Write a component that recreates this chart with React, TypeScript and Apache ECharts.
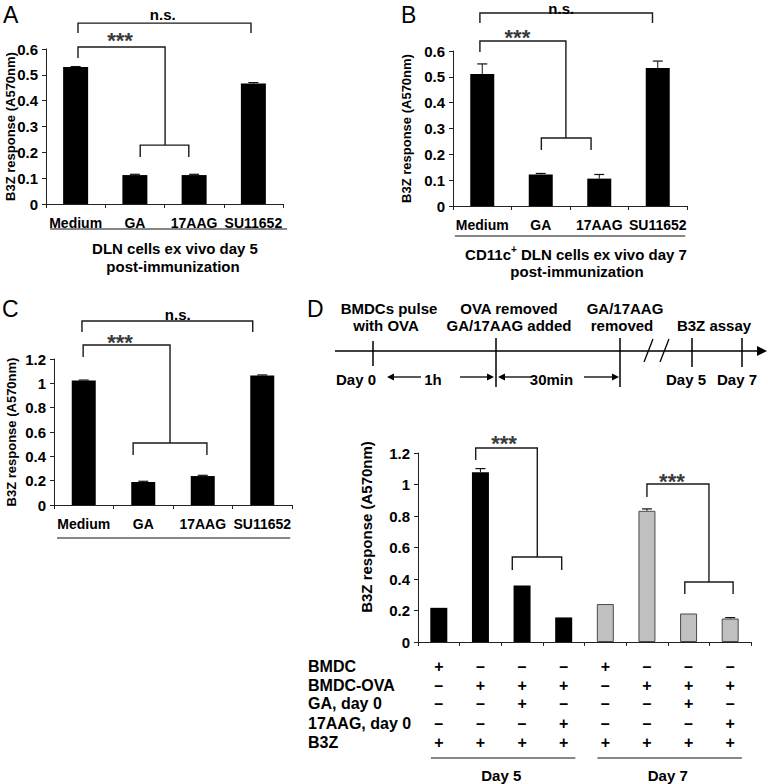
import React, { useEffect, useRef } from 'react';
import * as echarts from 'echarts';

const FONT = '"Liberation Sans", Arial, Helvetica, sans-serif';

// ---------- data ----------
const categoriesABC = ['Medium', 'GA', '17AAG', 'SU11652'];
const valuesA = [0.53, 0.112, 0.112, 0.466];
const errorsA = [0.002, 0.003, 0.003, 0.004];
const valuesB = [0.511, 0.122, 0.106, 0.534];
const errorsB = [0.039, 0.004, 0.016, 0.027];
const valuesC = [1.024, 0.189, 0.238, 1.065];
const errorsC = [0.003, 0.006, 0.006, 0.004];

const categoriesD = ['BMDC d5', 'BMDC-OVA d5', 'GA d5', '17AAG d5', 'BMDC d7', 'BMDC-OVA d7', 'GA d7', '17AAG d7'];
const dayGroupD = ['Day 5', 'Day 5', 'Day 5', 'Day 5', 'Day 7', 'Day 7', 'Day 7', 'Day 7'];
const valuesD = [0.217, 1.077, 0.359, 0.156, 0.241, 0.833, 0.181, 0.149];
const errorsD = [0, 0.024, 0, 0, 0, 0.012, 0, 0.006];

const yTicksAB = [0, 0.1, 0.2, 0.3, 0.4, 0.5, 0.6];
const yTicksCD = [0, 0.2, 0.4, 0.6, 0.8, 1, 1.2];

const tableRowLabels = ['BMDC', 'BMDC-OVA', 'GA, day 0', '17AAG, day 0', 'B3Z'];
const rowBMDC = ['+', '–', '–', '–', '+', '–', '–', '–'];
const rowBMDCOVA = ['–', '+', '+', '+', '–', '+', '+', '+'];
const rowGA = ['–', '–', '+', '–', '–', '–', '+', '–'];
const rowAAG = ['–', '–', '–', '+', '–', '–', '–', '+'];
const rowB3Z = ['+', '+', '+', '+', '+', '+', '+', '+'];
const tableRows = [rowBMDC, rowBMDCOVA, rowGA, rowAAG, rowB3Z];
const dayGroups = ['Day 5', 'Day 7'];

const yTitle = 'B3Z response (A570nm)';

// ---------- annotation layout (significance brackets, in category-fraction / value units) ----------
const bracketsA = [
  { kind: 'simple', x1: 0.04, x2: 2.96, y: 0.70, leg: 0.662, label: 'n.s.', tx: 1.47, dy: -9 },
  { kind: 'nested', x1: 0.04, xm: 1.51, y: 0.608, leg: 0.565, lx1: 1.09, lx2: 1.91, ly: 0.228, lleg: 0.182, label: '***', tx: 0.75, dy: -6 },
];
const bracketsB = [
  { kind: 'simple', x1: -0.04, x2: 2.91, y: 0.747, leg: 0.708, label: 'n.s.', tx: 1.35, dy: -5 },
  { kind: 'nested', x1: -0.04, xm: 1.43, y: 0.639, leg: 0.596, lx1: 1.01, lx2: 1.86, ly: 0.263, lleg: 0.217, label: '***', tx: 0.6, dy: -3.5 },
];
const bracketsC = [
  { kind: 'simple', x1: -0.03, x2: 2.84, y: 1.512, leg: 1.422, label: 'n.s.', tx: 1.58, dy: -7 },
  { kind: 'nested', x1: -0.01, xm: 1.45, y: 1.315, leg: 1.216, lx1: 0.83, lx2: 2.07, ly: 0.51, lleg: 0.411, label: '***', tx: 0.61, dy: -3 },
];
const bracketsD = [
  { kind: 'nested', x1: 0.886, xm: 2.366, y: 1.232, leg: 1.156, lx1: 1.765, lx2: 2.952, ly: 0.54, lleg: 0.457, label: '***', tx: 1.566, dy: -4.5 },
  { kind: 'nested', x1: 5.0, xm: 6.49, y: 1.003, leg: 0.921, lx1: 5.91, lx2: 7.07, ly: 0.381, lleg: 0.305, label: '***', tx: 5.6, dy: -3 },
];

const grids = [
  { left: 46, top: 49, width: 237, height: 155 },
  { left: 453, top: 51, width: 234, height: 155 },
  { left: 54, top: 359, width: 238, height: 146 },
  { left: 418, top: 453, width: 333, height: 189 },
];

function xAxisFor(g: number, data: string[], showLabel: boolean, margin: number) {
  return {
    type: 'category', gridIndex: g, data,
    axisLine: { show: true, lineStyle: { color: '#222', width: 1 } },
    axisTick: { show: true, length: 4, alignWithLabel: false, interval: 0, lineStyle: { color: '#222' } },
    axisLabel: { show: showLabel, interval: 0, margin, color: '#000', fontFamily: FONT, fontWeight: 'bold', fontSize: 14 },
    splitLine: { show: false },
  };
}

function yAxisFor(g: number, ticks: number[], fontSize: number) {
  return {
    type: 'value', gridIndex: g,
    min: ticks[0], max: ticks[ticks.length - 1], interval: ticks[1] - ticks[0],
    axisLine: { show: true, lineStyle: { color: '#222', width: 1 } },
    axisTick: { show: true, length: 4, lineStyle: { color: '#222' } },
    axisLabel: { margin: 8, color: '#000', fontFamily: FONT, fontWeight: 'bold', fontSize },
    splitLine: { show: false },
  };
}

const errRender = (params: any, api: any) => {
  const i = api.value(0);
  const v = api.value(1);
  const e = api.value(2);
  if (!e) return { type: 'group', children: [] };
  const base = api.coord([i, v]);
  const top = api.coord([i, v + e]);
  const hw = 5;
  return {
    type: 'group',
    children: [
      { type: 'line', shape: { x1: base[0], y1: base[1], x2: top[0], y2: top[1] }, style: { stroke: '#111', lineWidth: 1 } },
      { type: 'line', shape: { x1: top[0] - hw, y1: top[1], x2: top[0] + hw, y2: top[1] }, style: { stroke: '#111', lineWidth: 1.2 } },
    ],
  };
};

function barSeries(g: number, values: any[], width: number) {
  return { type: 'bar', xAxisIndex: g, yAxisIndex: g, data: values, barWidth: width, itemStyle: { color: '#000' }, silent: true };
}
function errSeries(g: number, values: number[], errors: number[]) {
  return {
    type: 'custom', xAxisIndex: g, yAxisIndex: g, z: 5, silent: true,
    encode: { x: 0, y: 1 },
    data: values.map((v, i) => [i, v, errors[i]]),
    renderItem: errRender,
  };
}

function buildOption() {
  const dData = valuesD.map((v, i) => ({
    value: v,
    itemStyle: dayGroupD[i] === 'Day 5'
      ? { color: '#000' }
      : { color: '#c0c0c0', borderColor: '#4a4a4a', borderWidth: 1 },
  }));
  return {
    animation: false,
    backgroundColor: '#fff',
    grid: grids.map((g) => ({ ...g, containLabel: false, outerBoundsMode: 'none' })),
    xAxis: [
      xAxisFor(0, categoriesABC, true, 12),
      xAxisFor(1, categoriesABC, true, 12),
      xAxisFor(2, categoriesABC, true, 12),
      xAxisFor(3, categoriesD, false, 8),
    ],
    yAxis: [
      yAxisFor(0, yTicksAB, 15),
      yAxisFor(1, yTicksAB, 15),
      yAxisFor(2, yTicksCD, 15),
      yAxisFor(3, yTicksCD, 15),
    ],
    series: [
      barSeries(0, valuesA, 25), errSeries(0, valuesA, errorsA),
      barSeries(1, valuesB, 24), errSeries(1, valuesB, errorsB),
      barSeries(2, valuesC, 24), errSeries(2, valuesC, errorsC),
      barSeries(3, dData, 17), errSeries(3, valuesD, errorsD),
    ],
  };
}

// ---------- graphic helpers ----------
const STROKE = '#1a1a1a';
function ln(x1: number, y1: number, x2: number, y2: number, w = 1.4, color = STROKE) {
  return { type: 'line', silent: true, shape: { x1, y1, x2, y2 }, style: { stroke: color, lineWidth: w } };
}
function poly(points: number[][], w = 1.4) {
  return { type: 'polyline', silent: true, shape: { points }, style: { stroke: STROKE, lineWidth: w, fill: null } };
}
function txt(text: string, x: number, y: number, size: number, align = 'center', bold = true, rotation = 0, fill = '#000') {
  return {
    type: 'text', silent: true, x, y, rotation,
    style: {
      text, fill,
      font: `${bold ? 'bold ' : ''}${size}px ${FONT}`,
      textAlign: align, align, textVerticalAlign: 'middle', verticalAlign: 'middle',
    },
  };
}
function arrowHead(tipX: number, y: number, dir: number, len: number, hw: number) {
  return {
    type: 'polygon', silent: true,
    shape: { points: [[tipX, y], [tipX - dir * len, y - hw], [tipX - dir * len, y + hw]] },
    style: { fill: '#000' },
  };
}

function buildGraphics(chart: any) {
  const els: any[] = [];
  const px = (g: number, f: number, v: number) => {
    const a = chart.convertToPixel({ gridIndex: g }, [0, v]) as number[];
    const b = chart.convertToPixel({ gridIndex: g }, [1, v]) as number[];
    return [a[0] + f * (b[0] - a[0]), a[1]];
  };

  const drawBrackets = (g: number, list: any[]) => {
    list.forEach((b) => {
      if (b.kind === 'simple') {
        const p1 = px(g, b.x1, b.leg), p2 = px(g, b.x1, b.y), p3 = px(g, b.x2, b.y), p4 = px(g, b.x2, b.leg);
        els.push(poly([p1, p2, p3, p4]));
        const t = px(g, b.tx, b.y);
        els.push(txt(b.label, t[0], t[1] + b.dy, 15));
      } else {
        const p1 = px(g, b.x1, b.leg), p2 = px(g, b.x1, b.y), p3 = px(g, b.xm, b.y), p4 = px(g, b.xm, b.ly);
        els.push(poly([p1, p2, p3, p4]));
        const q1 = px(g, b.lx1, b.lleg), q2 = px(g, b.lx1, b.ly), q3 = px(g, b.lx2, b.ly), q4 = px(g, b.lx2, b.lleg);
        els.push(poly([q1, q2, q3, q4]));
        const t = px(g, b.tx, b.y);
        els.push(txt(b.label, t[0], t[1] + b.dy, 22, 'center', true, 0, '#3a3a3a'));
      }
    });
  };
  drawBrackets(0, bracketsA);
  drawBrackets(1, bracketsB);
  drawBrackets(2, bracketsC);
  drawBrackets(3, bracketsD);

  // underlines under category labels
  const underline = (g: number, f1: number, f2: number, dy: number) => {
    const a = px(g, f1, 0), b = px(g, f2, 0);
    els.push(ln(a[0], a[1] + dy, b[0], b[1] + dy, 1.2, '#111'));
  };
  underline(0, -0.43, 3.57, 25);
  underline(1, -0.47, 3.47, 30);
  underline(2, -0.45, 3.47, 33);

  // x titles
  els.push(txt('DLN cells ex vivo day 5', 175, 248, 15));
  els.push(txt('post-immunization', 173, 266, 15));
  els.push({
    type: 'text', silent: true, x: 576, y: 253,
    style: {
      text: '{m|CD11c}{s|+}{m| DLN cells ex vivo day 7}',
      textAlign: 'center', align: 'center', textVerticalAlign: 'middle', verticalAlign: 'middle',
      rich: {
        m: { fontFamily: FONT, fontWeight: 'bold', fontSize: 15, lineHeight: 18, fill: '#000', color: '#000', verticalAlign: 'bottom' },
        s: { fontFamily: FONT, fontWeight: 'bold', fontSize: 10, lineHeight: 10, fill: '#000', color: '#000', verticalAlign: 'top' },
      },
    },
  });
  els.push(txt('post-immunization', 577, 271, 15));

  // y titles
  els.push(txt(yTitle, 10, 126.5, 13, 'center', true, Math.PI / 2));
  els.push(txt(yTitle, 406.5, 128.5, 13, 'center', true, Math.PI / 2));
  els.push(txt(yTitle, 11.5, 432, 13, 'center', true, Math.PI / 2));
  els.push(txt(yTitle, 366, 527, 15, 'center', true, Math.PI / 2));

  // panel letters
  els.push(txt('A', 3, 14.5, 23, 'left', false));
  els.push(txt('B', 401, 14.5, 23, 'left', false));
  els.push(txt('C', 2, 309, 23, 'left', false));
  els.push(txt('D', 307, 309, 23, 'left', false));

  // timeline (panel D schematic)
  const ty = 351;
  els.push(ln(335, ty, 758, ty, 1.5, '#000'));
  els.push(arrowHead(767, ty, 1, 10, 5));
  els.push(ln(373, 341, 373, 366, 1.5, '#000'));
  els.push(ln(496, 338, 496, 387, 1.5, '#000'));
  els.push(ln(620, 338, 620, 387, 1.5, '#000'));
  els.push(ln(692, 338, 692, 367, 1.5, '#000'));
  els.push(ln(742, 338, 742, 367, 1.5, '#000'));
  els.push(ln(653, 339, 644, 362, 1.3, '#000'));
  els.push(ln(669, 339, 660, 362, 1.3, '#000'));
  els.push(txt('BMDCs pulse', 389, 308, 15));
  els.push(txt('with OVA', 386, 325, 15));
  els.push(txt('OVA removed', 509, 308, 15));
  els.push(txt('GA/17AAG added', 509, 325, 15));
  els.push(txt('GA/17AAG', 625, 308, 15));
  els.push(txt('removed', 622, 325, 15));
  els.push(txt('B3Z assay', 714, 325, 15));
  els.push(txt('Day 0', 356, 379, 15));
  els.push(txt('Day 5', 686, 379, 15));
  els.push(txt('Day 7', 737, 379, 15));
  const ay = 377;
  els.push(ln(393, ay, 421, ay, 1.3, '#000'));
  els.push(arrowHead(387, ay, -1, 7, 3.5));
  els.push(txt('1h', 433, 379, 15));
  els.push(ln(460, ay, 488, ay, 1.3, '#000'));
  els.push(arrowHead(494, ay, 1, 7, 3.5));
  els.push(ln(504, ay, 531, ay, 1.3, '#000'));
  els.push(arrowHead(498, ay, -1, 7, 3.5));
  els.push(txt('30min', 551.5, 379, 15));
  els.push(ln(584, ay, 613, ay, 1.3, '#000'));
  els.push(arrowHead(619, ay, 1, 7, 3.5));

  // table below panel D
  const rowY = [666, 685, 703.5, 723, 742.5];
  tableRowLabels.forEach((label, r) => {
    els.push(txt(label, 308, rowY[r], 16, 'left'));
    tableRows[r].forEach((sym, i) => {
      const p = px(3, i, 0);
      els.push(txt(sym, p[0], rowY[r], 16));
    });
  });
  dayGroups.forEach((day) => {
    const idx = dayGroupD.map((d, i) => (d === day ? i : -1)).filter((i) => i >= 0);
    const first = idx[0], last = idx[idx.length - 1];
    const a = px(3, first - 0.19, 0), b = px(3, last + 0.28, 0);
    els.push(ln(a[0], 758, b[0], 758, 1.2, '#111'));
    const c = px(3, (first + last) / 2, 0);
    els.push(txt(day, c[0], 775, 15));
  });
  return els;
}

export default function App() {
  const ref = useRef<HTMLDivElement>(null);
  useEffect(() => {
    document.body.style.margin = '0';
    const chart = echarts.init(ref.current!, undefined, { renderer: 'svg' });
    chart.setOption(buildOption() as any);
    chart.setOption({ graphic: { elements: buildGraphics(chart) } } as any);
    return () => chart.dispose();
  }, []);
  return (
    <div
      ref={ref}
      style={{ position: 'absolute', left: 0, top: 0, width: 768, height: 784, background: '#fff' }}
    />
  );
}
